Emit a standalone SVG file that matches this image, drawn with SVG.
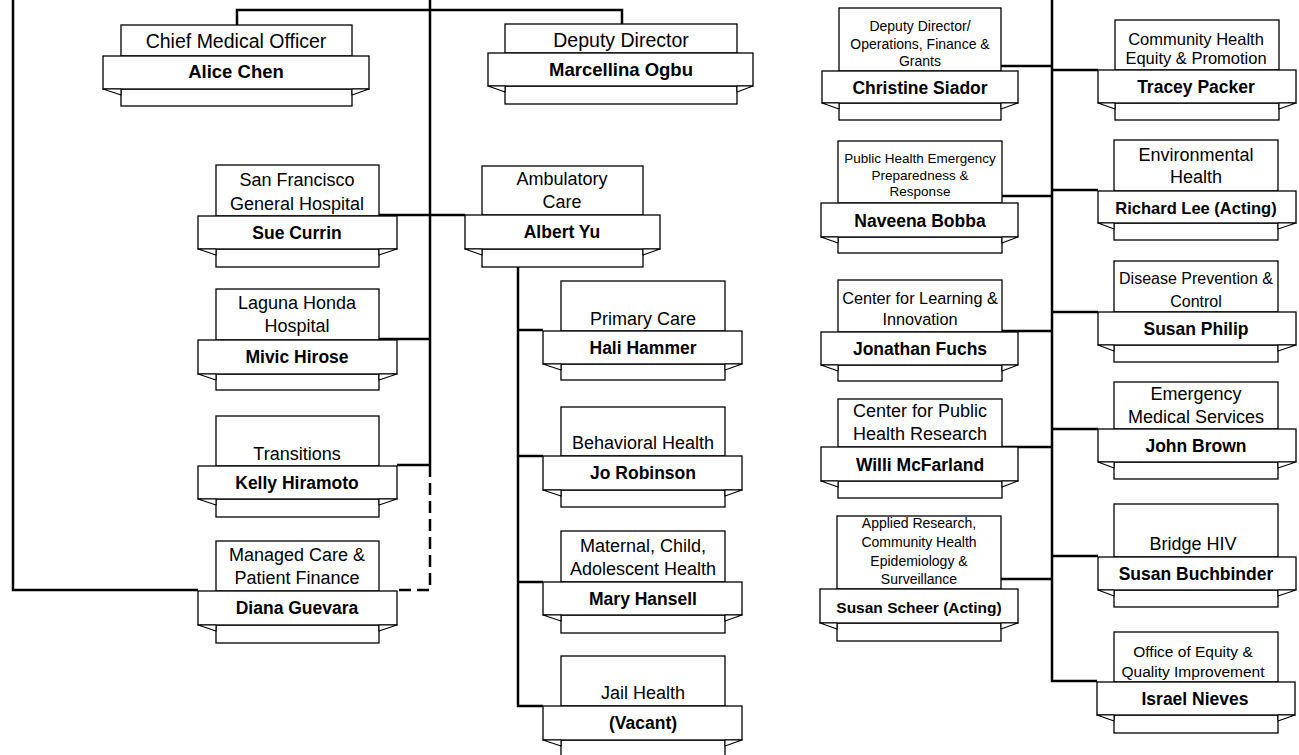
<svg xmlns="http://www.w3.org/2000/svg" width="1299" height="755" viewBox="0 0 1299 755">
<style>
.b{fill:#fff;stroke:#000;stroke-width:1.3}
.f{fill:#fff;stroke:#000;stroke-width:1.1;stroke-linejoin:round}
.t{font-family:"Liberation Sans",Arial,sans-serif;font-size:18px;fill:#000;text-anchor:middle}
.n{font-family:"Liberation Sans",Arial,sans-serif;font-size:17.5px;font-weight:bold;fill:#000;text-anchor:middle}
.c{fill:none;stroke:#000;stroke-width:2.5}
.d{fill:none;stroke:#000;stroke-width:2.5;stroke-dasharray:12 6}
</style>
<rect width="1299" height="755" fill="#fff"/>
<g id="connectors">
<path class="c" d="M13,0 V590 H198"/>
<path class="c" d="M430,0 V465"/>
<path class="c" d="M237,25 V10 H622 V24"/>
<path class="c" d="M379,215 H465"/>
<path class="c" d="M379,339 H430"/>
<path class="c" d="M397,465 H430"/>
<path class="d" d="M430,465 V590 H397"/>
<path class="c" d="M518,267 V706 H543"/>
<path class="c" d="M518,330 H543"/>
<path class="c" d="M518,456 H543"/>
<path class="c" d="M518,582 H543"/>
<path class="c" d="M1052,0 V681 H1097"/>
<path class="c" d="M1001,66 H1052"/>
<path class="c" d="M1052,70 H1098"/>
<path class="c" d="M1002,196 H1052"/>
<path class="c" d="M1052,190 H1098"/>
<path class="c" d="M1002,331 H1052"/>
<path class="c" d="M1052,312 H1098"/>
<path class="c" d="M1002,447 H1052"/>
<path class="c" d="M1052,429 H1098"/>
<path class="c" d="M1001,579 H1052"/>
<path class="c" d="M1052,556 H1098"/>
</g>
<g id="cmo">
<rect class="b" x="121" y="25" width="231" height="31"/>
<rect class="b" x="121" y="89" width="231" height="17"/>
<rect class="b" x="103" y="56" width="266" height="33"/>
<polygon class="f" points="103,89 121,89 121,95"/><polygon class="f" points="369,89 352,89 352,95"/>
<text class="t" x="236" y="48" style="font-size:19.5px">Chief Medical Officer</text>
<text class="n" x="236" y="78" style="font-size:18.5px">Alice Chen</text>
</g>
<g id="dd">
<rect class="b" x="505" y="24" width="232" height="29"/>
<rect class="b" x="505" y="86" width="232" height="18"/>
<rect class="b" x="488" y="53" width="265" height="33"/>
<polygon class="f" points="488,86 505,86 505,92"/><polygon class="f" points="753,86 737,86 737,92"/>
<text class="t" x="621" y="47" style="font-size:19.5px">Deputy Director</text>
<text class="n" x="621" y="76" style="font-size:18.5px">Marcellina Ogbu</text>
</g>
<g id="sfgh">
<rect class="b" x="216" y="165" width="163" height="51"/>
<rect class="b" x="216" y="249" width="163" height="18"/>
<rect class="b" x="198" y="216" width="199" height="33"/>
<polygon class="f" points="198,249 216,249 216,255"/><polygon class="f" points="397,249 379,249 379,255"/>
<text class="t" x="297" y="186">San Francisco</text>
<text class="t" x="297" y="210">General Hospital</text>
<text class="n" x="297" y="239">Sue Currin</text>
</g>
<g id="lhh">
<rect class="b" x="216" y="289" width="163" height="51"/>
<rect class="b" x="216" y="374" width="163" height="16"/>
<rect class="b" x="198" y="340" width="199" height="34"/>
<polygon class="f" points="198,374 216,374 216,380"/><polygon class="f" points="397,374 379,374 379,380"/>
<text class="t" x="297" y="309">Laguna Honda</text>
<text class="t" x="297" y="332">Hospital</text>
<text class="n" x="297" y="363">Mivic Hirose</text>
</g>
<g id="transitions">
<rect class="b" x="216" y="416" width="163" height="50"/>
<rect class="b" x="216" y="499" width="163" height="18"/>
<rect class="b" x="198" y="466" width="199" height="33"/>
<polygon class="f" points="198,499 216,499 216,505"/><polygon class="f" points="397,499 379,499 379,505"/>
<text class="t" x="297" y="460">Transitions</text>
<text class="n" x="297" y="489">Kelly Hiramoto</text>
</g>
<g id="managed">
<rect class="b" x="216" y="541" width="163" height="50"/>
<rect class="b" x="216" y="625" width="163" height="18"/>
<rect class="b" x="198" y="591" width="199" height="34"/>
<polygon class="f" points="198,625 216,625 216,631"/><polygon class="f" points="397,625 379,625 379,631"/>
<text class="t" x="297" y="561">Managed Care &amp;</text>
<text class="t" x="297" y="584">Patient Finance</text>
<text class="n" x="297" y="614">Diana Guevara</text>
</g>
<g id="ambulatory">
<rect class="b" x="482" y="166" width="161" height="49"/>
<rect class="b" x="482" y="249" width="161" height="18"/>
<rect class="b" x="465" y="215" width="195" height="34"/>
<polygon class="f" points="465,249 482,249 482,255"/><polygon class="f" points="660,249 643,249 643,255"/>
<text class="t" x="562" y="185">Ambulatory</text>
<text class="t" x="562" y="208">Care</text>
<text class="n" x="562" y="238">Albert Yu</text>
</g>
<g id="primary">
<rect class="b" x="561" y="281" width="164" height="50"/>
<rect class="b" x="561" y="364" width="164" height="16"/>
<rect class="b" x="543" y="331" width="199" height="33"/>
<polygon class="f" points="543,364 561,364 561,370"/><polygon class="f" points="742,364 725,364 725,370"/>
<text class="t" x="643" y="325">Primary Care</text>
<text class="n" x="643" y="354">Hali Hammer</text>
</g>
<g id="behavioral">
<rect class="b" x="561" y="407" width="164" height="49"/>
<rect class="b" x="561" y="490" width="164" height="17"/>
<rect class="b" x="543" y="456" width="199" height="34"/>
<polygon class="f" points="543,490 561,490 561,496"/><polygon class="f" points="742,490 725,490 725,496"/>
<text class="t" x="643" y="449">Behavioral Health</text>
<text class="n" x="643" y="479">Jo Robinson</text>
</g>
<g id="maternal">
<rect class="b" x="561" y="531" width="164" height="51"/>
<rect class="b" x="561" y="615" width="164" height="18"/>
<rect class="b" x="543" y="582" width="199" height="33"/>
<polygon class="f" points="543,615 561,615 561,621"/><polygon class="f" points="742,615 725,615 725,621"/>
<text class="t" x="643" y="552">Maternal, Child,</text>
<text class="t" x="643" y="575">Adolescent Health</text>
<text class="n" x="643" y="605">Mary Hansell</text>
</g>
<g id="jail">
<rect class="b" x="561" y="656" width="164" height="50"/>
<rect class="b" x="561" y="740" width="164" height="18"/>
<rect class="b" x="543" y="706" width="199" height="34"/>
<polygon class="f" points="543,740 561,740 561,746"/><polygon class="f" points="742,740 725,740 725,746"/>
<text class="t" x="643" y="699">Jail Health</text>
<text class="n" x="643" y="729">(Vacant)</text>
</g>
<g id="christine">
<rect class="b" x="839" y="8" width="162" height="63"/>
<rect class="b" x="839" y="103" width="162" height="17"/>
<rect class="b" x="822" y="71" width="196" height="32"/>
<polygon class="f" points="822,103 839,103 839,109"/><polygon class="f" points="1018,103 1001,103 1001,109"/>
<text class="t" x="920" y="31" style="font-size:14px">Deputy Director/</text>
<text class="t" x="920" y="48.5" style="font-size:14px">Operations, Finance &amp;</text>
<text class="t" x="920" y="66" style="font-size:14px">Grants</text>
<text class="n" x="920" y="93.5">Christine Siador</text>
</g>
<g id="naveena">
<rect class="b" x="838" y="141" width="164" height="62"/>
<rect class="b" x="838" y="237" width="164" height="16"/>
<rect class="b" x="821" y="203" width="197" height="34"/>
<polygon class="f" points="821,237 838,237 838,243"/><polygon class="f" points="1018,237 1002,237 1002,243"/>
<text class="t" x="920" y="163" style="font-size:13.5px">Public Health Emergency</text>
<text class="t" x="920" y="180" style="font-size:13.5px">Preparedness &amp;</text>
<text class="t" x="920" y="196" style="font-size:13.5px">Response</text>
<text class="n" x="920" y="226.5">Naveena Bobba</text>
</g>
<g id="jonathan">
<rect class="b" x="838" y="280" width="164" height="52"/>
<rect class="b" x="838" y="365" width="164" height="16"/>
<rect class="b" x="821" y="332" width="197" height="33"/>
<polygon class="f" points="821,365 838,365 838,371"/><polygon class="f" points="1018,365 1002,365 1002,371"/>
<text class="t" x="920" y="304" style="font-size:16.3px">Center for Learning &amp;</text>
<text class="t" x="920" y="325" style="font-size:16.3px">Innovation</text>
<text class="n" x="920" y="355">Jonathan Fuchs</text>
</g>
<g id="willi">
<rect class="b" x="838" y="399" width="164" height="48"/>
<rect class="b" x="838" y="481" width="164" height="17"/>
<rect class="b" x="821" y="447" width="197" height="34"/>
<polygon class="f" points="821,481 838,481 838,487"/><polygon class="f" points="1018,481 1002,481 1002,487"/>
<text class="t" x="920" y="417">Center for Public</text>
<text class="t" x="920" y="440">Health Research</text>
<text class="n" x="920" y="470.5">Willi McFarland</text>
</g>
<g id="scheer">
<rect class="b" x="837" y="516" width="164" height="73"/>
<rect class="b" x="837" y="623" width="164" height="18"/>
<rect class="b" x="820" y="589" width="198" height="34"/>
<polygon class="f" points="820,623 837,623 837,629"/><polygon class="f" points="1018,623 1001,623 1001,629"/>
<text class="t" x="919" y="528" style="font-size:14px">Applied Research,</text>
<text class="t" x="919" y="547" style="font-size:14px">Community Health</text>
<text class="t" x="919" y="566" style="font-size:14px">Epidemiology &amp;</text>
<text class="t" x="919" y="584" style="font-size:14px">Surveillance</text>
<text class="n" x="919" y="612.5" style="font-size:15.5px">Susan Scheer (Acting)</text>
</g>
<g id="tracey">
<rect class="b" x="1115" y="20" width="164" height="50"/>
<rect class="b" x="1115" y="103" width="164" height="17"/>
<rect class="b" x="1098" y="70" width="198" height="33"/>
<polygon class="f" points="1098,103 1115,103 1115,109"/><polygon class="f" points="1296,103 1279,103 1279,109"/>
<text class="t" x="1196" y="45" style="font-size:16.5px">Community Health</text>
<text class="t" x="1196" y="64" style="font-size:16.5px">Equity &amp; Promotion</text>
<text class="n" x="1196" y="93">Tracey Packer</text>
</g>
<g id="richard">
<rect class="b" x="1114" y="140" width="164" height="51"/>
<rect class="b" x="1114" y="223" width="164" height="17"/>
<rect class="b" x="1098" y="191" width="198" height="32"/>
<polygon class="f" points="1098,223 1114,223 1114,229"/><polygon class="f" points="1296,223 1278,223 1278,229"/>
<text class="t" x="1196" y="161">Environmental</text>
<text class="t" x="1196" y="183">Health</text>
<text class="n" x="1196" y="213.5" style="font-size:16.5px">Richard Lee (Acting)</text>
</g>
<g id="philip">
<rect class="b" x="1114" y="261" width="164" height="51"/>
<rect class="b" x="1114" y="345" width="164" height="17"/>
<rect class="b" x="1098" y="312" width="198" height="33"/>
<polygon class="f" points="1098,345 1114,345 1114,351"/><polygon class="f" points="1296,345 1278,345 1278,351"/>
<text class="t" x="1196" y="284" style="font-size:16px">Disease Prevention &amp;</text>
<text class="t" x="1196" y="307" style="font-size:16px">Control</text>
<text class="n" x="1196" y="335">Susan Philip</text>
</g>
<g id="ems">
<rect class="b" x="1114" y="382" width="164" height="47"/>
<rect class="b" x="1114" y="462" width="164" height="17"/>
<rect class="b" x="1098" y="429" width="198" height="33"/>
<polygon class="f" points="1098,462 1114,462 1114,468"/><polygon class="f" points="1296,462 1278,462 1278,468"/>
<text class="t" x="1196" y="400">Emergency</text>
<text class="t" x="1196" y="423">Medical Services</text>
<text class="n" x="1196" y="452">John Brown</text>
</g>
<g id="bridge">
<rect class="b" x="1114" y="504" width="164" height="53"/>
<rect class="b" x="1114" y="590" width="164" height="17"/>
<rect class="b" x="1098" y="557" width="198" height="33"/>
<polygon class="f" points="1098,590 1114,590 1114,596"/><polygon class="f" points="1296,590 1278,590 1278,596"/>
<text class="t" x="1193" y="550">Bridge HIV</text>
<text class="n" x="1196" y="580">Susan Buchbinder</text>
</g>
<g id="nieves">
<rect class="b" x="1114" y="632" width="164" height="50"/>
<rect class="b" x="1114" y="715" width="164" height="18"/>
<rect class="b" x="1097" y="682" width="198" height="33"/>
<polygon class="f" points="1097,715 1114,715 1114,721"/><polygon class="f" points="1295,715 1278,715 1278,721"/>
<text class="t" x="1193" y="657" style="font-size:15.5px">Office of Equity &amp;</text>
<text class="t" x="1193" y="677" style="font-size:15.5px">Quality Improvement</text>
<text class="n" x="1195" y="705">Israel Nieves</text>
</g>
</svg>
